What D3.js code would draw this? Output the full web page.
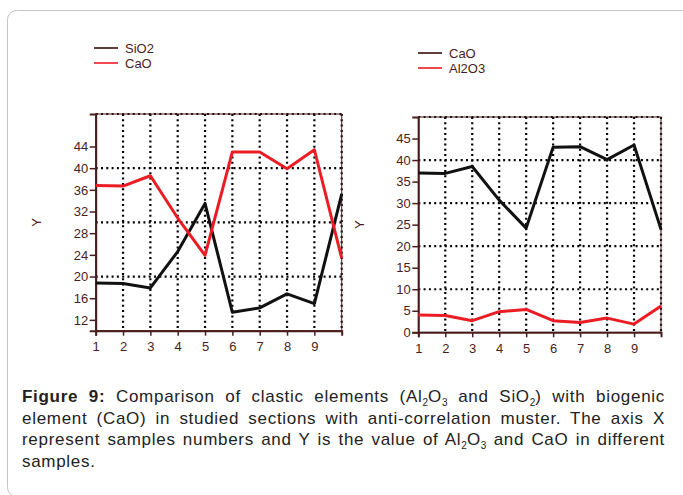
<!DOCTYPE html>
<html>
<head>
<meta charset="utf-8">
<script src="https://cdn.jsdelivr.net/npm/d3@7"></script>
<style>
  body { margin: 0; background: #fff; }
  #wrap { position: relative; width: 683px; height: 495px; overflow: hidden; }
  svg { position: absolute; left: 0; top: 0; }
  #caption {
    position: absolute; left: 22px; top: 386px; width: 643px;
    font-family: "Liberation Sans", Arial, sans-serif; font-size: 17px;
    letter-spacing: 0.7px;
    line-height: 21.5px; color: #222;
  }
  #caption .ln { text-align: justify; text-align-last: justify; white-space: nowrap; }
  #caption .ln.last { text-align-last: left; }
  #caption sub { font-size: 10px; vertical-align: -4px; line-height: 0; letter-spacing: 0; }
</style>
</head>
<body>
<div id="wrap">
  <div id="chart"></div>
  <div id="caption">
    <div class="ln"><b>Figure 9:</b> Comparison of clastic elements (Al<sub>2</sub>O<sub>3</sub> and SiO<sub>2</sub>) with biogenic</div>
    <div class="ln">element (CaO) in studied sections with anti-correlation muster. The axis X</div>
    <div class="ln">represent samples numbers and Y is the value of Al<sub>2</sub>O<sub>3</sub> and CaO in different</div>
    <div class="ln last">samples.</div>
  </div>
</div>
<script>
// --- DATA ---
const samples = [1, 2, 3, 4, 5, 6, 7, 8, 9, 10];
const xTicks = [1, 2, 3, 4, 5, 6, 7, 8, 9];

// left panel
const sio2 = [18.8, 18.7, 17.9, 24.6, 33.5, 13.4, 14.2, 16.8, 15.0, 35.2];
const caoLeft = [36.8, 36.7, 38.6, 30.8, 23.9, 43.0, 43.0, 39.9, 43.4, 23.4];
const leftYTicks = [12, 16, 20, 24, 28, 32, 36, 40, 44];
const leftGridY = [20, 30, 40];

// right panel
const caoRight = [37.0, 36.9, 38.5, 30.7, 24.2, 43.0, 43.1, 40.1, 43.5, 23.9];
const al2o3 = [4.0, 3.9, 2.7, 4.8, 5.3, 2.7, 2.3, 3.3, 1.9, 6.1];
const rightYTicks = [0, 5, 10, 15, 20, 25, 30, 35, 40, 45];
const rightGridY = [10, 20, 30, 40];

const AXIS = "#4a1c1c";
const RED = "#ec1c24";
const BLACK = "#111";

const svg = d3.select("#chart").append("svg")
  .attr("width", 683).attr("height", 495);

// card border
svg.append("rect")
  .attr("x", 7.5).attr("y", 10.5)
  .attr("width", 720).attr("height", 486)
  .attr("rx", 9)
  .attr("fill", "#fff")
  .attr("stroke", "#c4c4c4");

function panel(opt) {
  const x = d3.scaleLinear().domain([1, 10]).range(opt.xr);
  const y = d3.scaleLinear().domain(opt.yd).range(opt.yr);
  const g = svg.append("g");

  // dotted grid
  const gridX = xTicks.slice(1).concat([10]);
  g.selectAll(".gx").data(gridX).enter().append("line")
    .attr("x1", d => x(d)).attr("x2", d => x(d))
    .attr("y1", y(opt.yd[1])).attr("y2", y(opt.yd[0]))
    .attr("stroke", "#000").attr("stroke-width", 2.2)
    .attr("stroke-dasharray", "2,3.3");
  g.selectAll(".gy").data(opt.gridY.concat([opt.yd[1]])).enter().append("line")
    .attr("x1", x(1)).attr("x2", x(10))
    .attr("y1", d => y(d)).attr("y2", d => y(d))
    .attr("stroke", "#000").attr("stroke-width", 2.2)
    .attr("stroke-dasharray", "2,3.3");

  // frame
  g.append("rect")
    .attr("x", x(1)).attr("y", y(opt.yd[1]))
    .attr("width", x(10) - x(1)).attr("height", y(opt.yd[0]) - y(opt.yd[1]))
    .attr("fill", "none").attr("stroke", AXIS).attr("stroke-width", 1);

  // axes
  const ax = g.append("g")
    .attr("transform", `translate(0,${y(opt.yd[0])})`)
    .call(d3.axisBottom(x).tickValues(xTicks).tickSize(5).tickPadding(6).tickFormat(d3.format("d")));
  const ay = g.append("g")
    .attr("transform", `translate(${x(1)},0)`)
    .call(d3.axisLeft(y).tickValues(opt.yTicks).tickSize(6).tickPadding(1.5).tickFormat(d3.format("d")));
  [ax, ay].forEach(a => {
    a.select(".domain").attr("stroke", AXIS).attr("stroke-width", 2);
    a.selectAll(".tick line").attr("stroke", AXIS).attr("stroke-width", 1.5);
    a.selectAll("text")
      .attr("fill", AXIS)
      .style("font-family", "'Liberation Sans', Arial, sans-serif")
      .style("font-size", "13px");
  });

  // series lines
  const line = d3.line().x((d, i) => x(samples[i])).y(d => y(d));
  opt.series.forEach(s => {
    g.append("path")
      .datum(s.values)
      .attr("d", line)
      .attr("fill", "none")
      .attr("stroke", s.color)
      .attr("stroke-width", 3)
      .attr("stroke-linejoin", "round");
  });

  // Y label
  g.append("text")
    .attr("transform", `translate(${opt.yLabelX},${(y(opt.yd[0]) + y(opt.yd[1])) / 2}) rotate(-90)`)
    .attr("text-anchor", "middle")
    .attr("fill", AXIS)
    .style("font-family", "'Liberation Sans', Arial, sans-serif")
    .style("font-size", "13px")
    .text("Y");

  // legend
  opt.series.forEach((s, i) => {
    const ly = opt.legendY + i * 15;
    g.append("line")
      .attr("x1", opt.legendX).attr("x2", opt.legendX + 24)
      .attr("y1", ly).attr("y2", ly)
      .attr("stroke", s.legendColor).attr("stroke-width", 1.6);
    g.append("text")
      .attr("x", opt.legendX + 31).attr("y", ly + 4.5)
      .attr("fill", AXIS)
      .style("font-family", "'Liberation Sans', Arial, sans-serif")
      .style("font-size", "13px")
      .text(s.name);
  });
}

panel({
  xr: [95.7, 341.7], yd: [10, 50], yr: [330.7, 114],
  yTicks: leftYTicks, gridY: leftGridY,
  yLabelX: 41, legendX: 94, legendY: 48,
  series: [
    { name: "SiO2", values: sio2, color: BLACK, legendColor: "#3a0f0f" },
    { name: "CaO", values: caoLeft, color: RED, legendColor: RED }
  ]
});

panel({
  xr: [418.3, 661], yd: [0, 50], yr: [332.3, 117],
  yTicks: rightYTicks, gridY: rightGridY,
  yLabelX: 364, legendX: 418, legendY: 53,
  series: [
    { name: "CaO", values: caoRight, color: BLACK, legendColor: "#3a0f0f" },
    { name: "Al2O3", values: al2o3, color: RED, legendColor: RED }
  ]
});
</script>
</body>
</html>
